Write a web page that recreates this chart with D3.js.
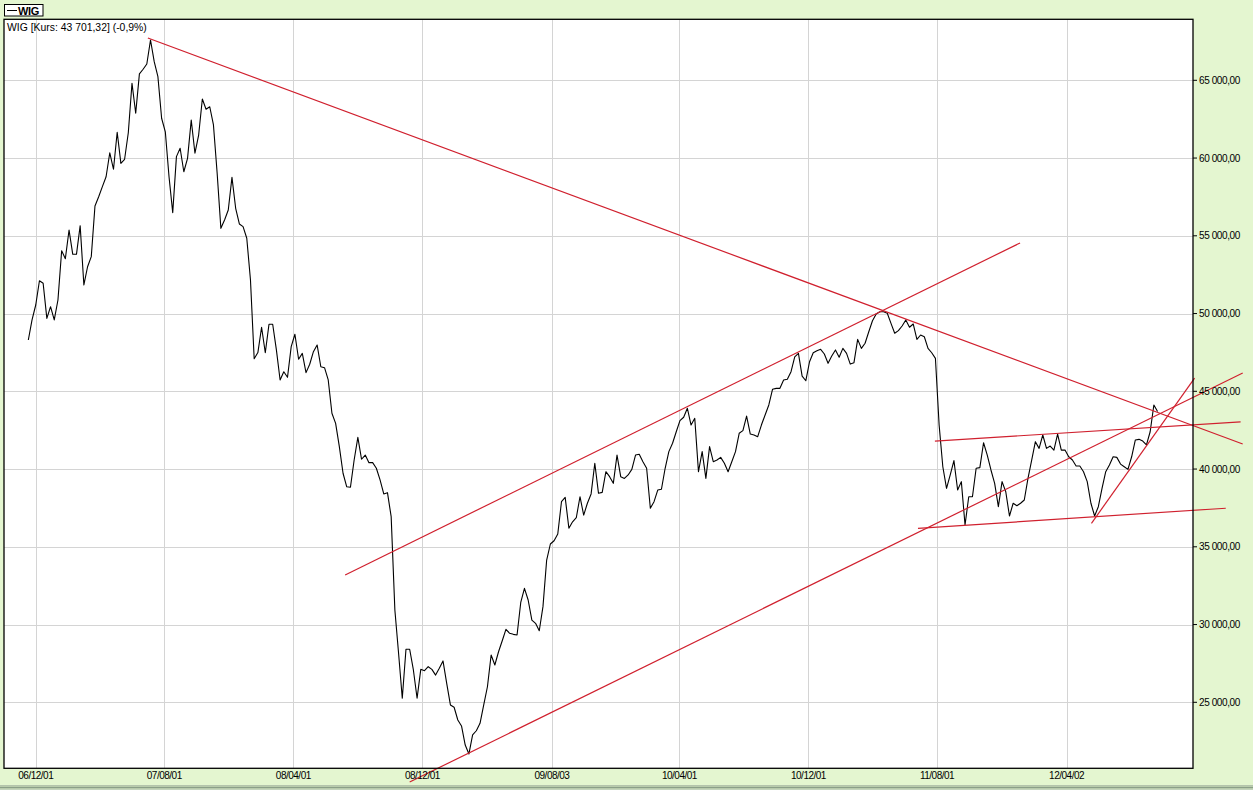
<!DOCTYPE html>
<html>
<head>
<meta charset="utf-8">
<script src="https://cdn.jsdelivr.net/npm/d3@7"></script>
<style>
html, body { margin: 0; padding: 0; background: #e4f6d0; }
svg { display: block; font-family: "Liberation Sans", Arial, sans-serif; }
</style>
</head>
<body>
<script>
// weekly closes of WIG, first week ends 2006-11-17
var weekStart = "2006-11-17";
var wigClose = [
  48300, 49590, 50550, 52110, 51950, 49690, 50440, 49590, 50870, 54040,
  53530, 55370, 53810, 53810, 55650, 51840, 53010, 53660, 56920, 57510,
  58160, 58800, 60340, 59280, 61660, 59660, 59920, 61630, 64810, 62880,
  65410, 65710, 66050, 67590, 66200, 65230, 62560, 61690, 58800, 56490,
  60090, 60630, 59120, 59980, 62450, 60310, 61480, 63800, 63140, 63300,
  62130, 59020, 55480, 56020, 56660, 58760, 56770, 55760, 55590, 54840,
  52160, 47090, 47490, 49120, 47480, 49310, 49310, 47660, 45730, 46260,
  45900, 47870, 48670, 47060, 47440, 46200, 46740, 47550, 47980, 46580,
  46520, 45730, 43590, 42940, 41440, 39730, 38860, 38830, 40580, 42040,
  40630, 40900, 40410, 40410, 40050, 39300, 38400, 38480, 36940, 30940,
  28150, 25260, 28410, 28410, 27080, 25260, 27120, 27030, 27290, 27120,
  26750, 27190, 27660, 26220, 24830, 24680, 23860, 23480, 22250, 21680,
  22900, 23170, 23650, 24830, 26000, 28040, 27400, 28250, 28960, 29690,
  29440, 29370, 29330, 31420, 32330, 31580, 30290, 30080, 29600, 31150,
  34150, 35180, 35390, 35820, 37900, 38180, 36190, 36610, 36870, 38220,
  37040, 37800, 38400, 40370, 38440, 38500, 39830, 39510, 39080, 40900,
  39510, 39400, 39620, 39980, 40900, 40950, 40470, 40050, 37480, 37900,
  38650, 38700, 40050, 41120, 41660, 42400, 43110, 43330, 43910, 42830,
  43260, 39830, 41120, 39400, 41440, 40470, 40580, 40750, 40370, 39830,
  40470, 41120, 42300, 42470, 43410, 42250, 42190, 42080, 42830, 43480,
  44120, 45130, 45190, 45190, 45730, 45770, 46260, 47220, 47440, 45980,
  45680, 46900, 47480, 47610, 47700, 47400, 46800, 47270, 47660, 47190,
  47760, 47440, 46750, 46840, 48340, 47760, 48090, 48830, 49540, 49970,
  50120, 50120, 50020, 49370, 48730, 48900, 49200, 49590, 49120, 49330,
  48340, 48620, 48510, 47760, 47480, 47120, 42830, 40150, 38760, 39620,
  40540, 38650, 39190, 36400, 38220, 38220, 40050, 40090, 41690, 40900,
  39940, 39080, 37580, 39190, 38540, 36980, 37800, 37640, 37800, 38010,
  39400, 40580, 41760, 41330, 42190, 41330, 41480, 41220, 42250, 41220,
  41220, 40790, 40580, 40200, 40200, 39830, 39190, 37800, 36980, 37580,
  38760, 39830, 40260, 40790, 40750, 40320, 40150, 39980, 40790, 41870,
  41910, 41800, 41550, 42400, 44120, 43701.32
];

var xTickDates = ["2006-12-01", "2007-08-01", "2008-04-01", "2008-12-01", "2009-08-03",
                  "2010-04-01", "2010-12-01", "2011-08-01", "2012-04-02"];
var xTickLabels = ["06/12/01", "07/08/01", "08/04/01", "08/12/01", "09/08/03",
                   "10/04/01", "10/12/01", "11/08/01", "12/04/02"];
var yTicks = [25000, 30000, 35000, 40000, 45000, 50000, 55000, 60000, 65000];

// drawn trend lines: [date, value] from -> to
var trendFrom = [["2007-07-01", 67720], ["2008-07-08", 33190], ["2008-11-07", 19870],
                 ["2011-07-28", 41800], ["2011-06-26", 36190], ["2012-05-19", 36510]];
var trendTo   = [["2013-03-01", 41610], ["2012-01-05", 54540], ["2013-03-01", 46180],
                 ["2013-02-25", 43030], ["2013-01-28", 37480], ["2012-11-30", 45850]];

var titleText = "WIG [Kurs: 43 701,32] (-0,9%)";

var w = 1253, h = 790;
var plotL = 4, plotR = 1193, plotT = 19.3, plotB = 768.3;
var parse = d3.timeParse("%Y-%m-%d");

var x = d3.scaleTime()
          .domain([parse("2006-10-02"), parse("2012-11-27")])
          .range([plotL, plotR]);
var y = d3.scaleLinear()
          .domain([65000, 25000])
          .range([80.3, 702.3]);

var pl = d3.formatLocale({decimal: ",", thousands: " ", grouping: [3], currency: ["", ""]});
var fmt = pl.format(",.2f");

var series = wigClose.map(function(v, i) {
    return {date: d3.timeDay.offset(parse(weekStart), 7 * i), value: v};
});

var svg = d3.select("body")
            .append("svg")
            .attr("width", w)
            .attr("height", h);

svg.append("rect")
   .attr("width", w).attr("height", h)
   .attr("fill", "#e4f6d0");

// plot area
svg.append("rect")
   .attr("x", plotL).attr("y", plotT)
   .attr("width", plotR - plotL).attr("height", plotB - plotT)
   .attr("fill", "#fff");

// grid
svg.append("g")
   .selectAll("line")
   .data(xTickDates)
   .enter()
   .append("line")
   .attr("x1", function(d) { return Math.round(x(parse(d))) + 0.5; })
   .attr("x2", function(d) { return Math.round(x(parse(d))) + 0.5; })
   .attr("y1", plotT).attr("y2", plotB)
   .attr("stroke", "#d4d4d4");

svg.append("g")
   .selectAll("line")
   .data(yTicks)
   .enter()
   .append("line")
   .attr("x1", plotL).attr("x2", plotR)
   .attr("y1", function(d) { return Math.round(y(d)) + 0.5; })
   .attr("y2", function(d) { return Math.round(y(d)) + 0.5; })
   .attr("stroke", "#d4d4d4");

// price line
var line = d3.line()
             .x(function(d) { return x(d.date); })
             .y(function(d) { return y(d.value); });

svg.append("path")
   .datum(series)
   .attr("d", line)
   .attr("fill", "none")
   .attr("stroke", "#000")
   .attr("stroke-width", 1.1)
   .attr("stroke-linejoin", "round");

// trend lines
svg.append("g")
   .selectAll("line")
   .data(trendFrom)
   .enter()
   .append("line")
   .attr("x1", function(d) { return x(parse(d[0])); })
   .attr("y1", function(d) { return y(d[1]); })
   .attr("x2", function(d, i) { return x(parse(trendTo[i][0])); })
   .attr("y2", function(d, i) { return y(trendTo[i][1]); })
   .attr("stroke", "#d0202e")
   .attr("stroke-width", 1.2);

// frame
svg.append("rect")
   .attr("x", plotL).attr("y", plotT)
   .attr("width", plotR - plotL).attr("height", plotB - plotT)
   .attr("fill", "none")
   .attr("stroke", "#000")
   .attr("stroke-width", 1.3);

// right axis
var ya = svg.append("g");
ya.selectAll("line")
  .data(yTicks)
  .enter()
  .append("line")
  .attr("x1", plotR).attr("x2", plotR + 4)
  .attr("y1", function(d) { return y(d); })
  .attr("y2", function(d) { return y(d); })
  .attr("stroke", "#000");
ya.selectAll("text")
  .data(yTicks)
  .enter()
  .append("text")
  .attr("x", plotR + 6)
  .attr("y", function(d) { return y(d) + 3.6; })
  .attr("font-size", "10px")
  .attr("letter-spacing", "-0.4px")
  .attr("fill", "#000")
  .text(function(d) { return fmt(d); });

// bottom axis labels
svg.append("g")
   .selectAll("text")
   .data(xTickDates)
   .enter()
   .append("text")
   .attr("x", function(d) { return x(parse(d)); })
   .attr("y", 779)
   .attr("text-anchor", "middle")
   .attr("font-size", "10px")
   .attr("letter-spacing", "-0.5px")
   .attr("fill", "#000")
   .text(function(d, i) { return xTickLabels[i]; });

// title inside plot
svg.append("text")
   .attr("x", 7).attr("y", 31)
   .attr("font-size", "10.4px")
   .attr("fill", "#000")
   .text(titleText);

// legend box
svg.append("rect")
   .attr("x", 4.5).attr("y", 4.5)
   .attr("width", 38.5).attr("height", 11.5)
   .attr("fill", "#fff")
   .attr("stroke", "#000");
svg.append("line")
   .attr("x1", 7).attr("x2", 17)
   .attr("y1", 10.5).attr("y2", 10.5)
   .attr("stroke", "#000");
svg.append("text")
   .attr("x", 18).attr("y", 14.5)
   .attr("font-size", "11px")
   .attr("font-weight", "bold")
   .attr("letter-spacing", "-0.3px")
   .text("WIG");

// bottom strip
svg.append("line").attr("x1", 0).attr("x2", w).attr("y1", 785.5).attr("y2", 785.5)
   .attr("stroke", "#b4c4ac");
svg.append("line").attr("x1", 0).attr("x2", w).attr("y1", 787.5).attr("y2", 787.5)
   .attr("stroke", "#8b9f88").attr("stroke-width", 2);
svg.append("line").attr("x1", 0).attr("x2", w).attr("y1", 789.5).attr("y2", 789.5)
   .attr("stroke", "#c4d4bc");
</script>
</body>
</html>
